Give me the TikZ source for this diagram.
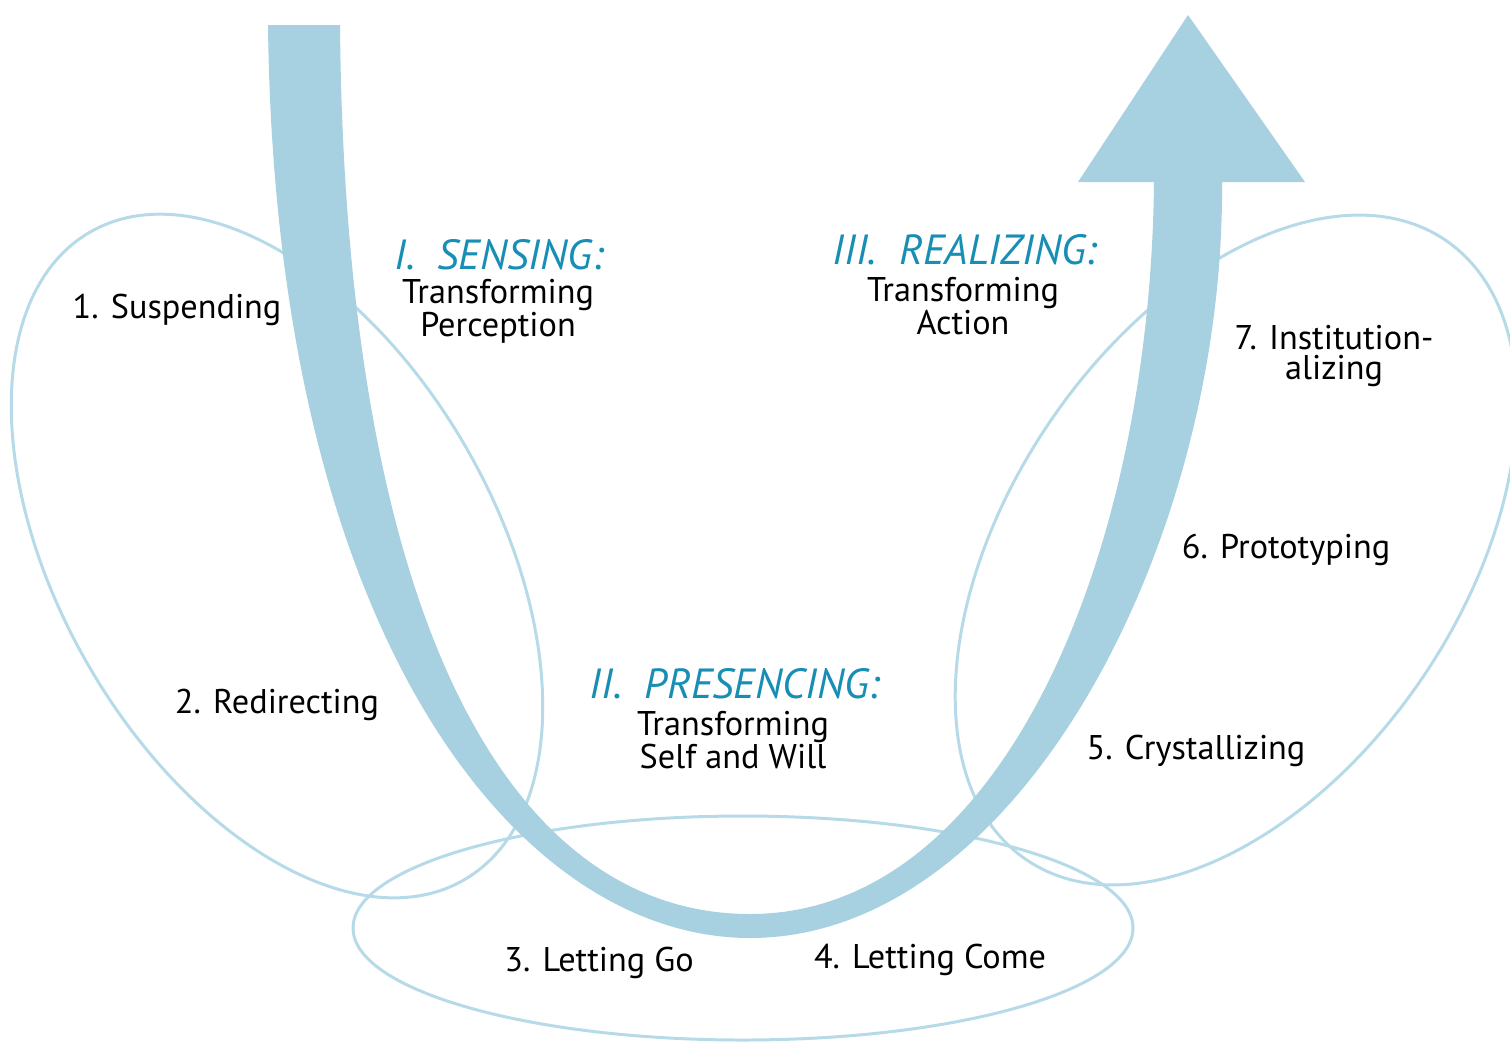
\documentclass[tikz,border=0pt]{standalone}
\usepackage{fontspec}
\setmainfont{PT Sans}
\definecolor{pfeilblau}{RGB}{167,209,225}
\definecolor{ringblau}{RGB}{182,218,231}
\definecolor{titelblau}{RGB}{24,142,180}
\begin{document}
\begin{tikzpicture}[x=0.02cm, y=-0.02cm,
	ring/.style={draw=ringblau, line width=1.7pt},
	schritt/.style={font=\fontsize{19.5}{17.6}\selectfont, align=center, inner sep=0pt},
	phase/.style={font=\fontsize{24}{24}\selectfont\itshape, text=titelblau, inner sep=0pt},
	unter/.style={font=\fontsize{19.5}{17.6}\selectfont, align=center, inner sep=0pt}]
\useasboundingbox (0,0) rectangle (1510,1042);

% Ellipsen zeichnen
\draw[ring, rotate around={-60:(277,556)}] (277,556) ellipse [x radius=374, y radius=218];
\draw[ring, rotate around={56:(1236,550)}] (1236,550) ellipse [x radius=374, y radius=226];
\draw[ring] (743,928) ellipse [x radius=390, y radius=112];

% U-Pfeil zeichnen: aussen, Spitze, innen
\fill[pfeilblau] (268,25) .. controls (275,640) and (520,938) .. (750,938)
	.. controls (1020,938) and (1225,540) .. (1222,182)
	-- (1305,182) -- (1188,15) -- (1078,182) -- (1154,182)
	.. controls (1150,560) and (1000,914) .. (750,914)
	.. controls (510,914) and (345,620) .. (340,25) -- cycle;

% Phasen beschriften
\node[phase] (sensing) at (499,255) {I.\ \ SENSING:};
\node[unter] (sensingtext) at (498,311) {Transforming\\Perception};
\node[phase] (presencing) at (735,684) {II.\ \ PRESENCING:};
\node[unter] (presencingtext) at (733,740) {Transforming\\Self and Will};
\node[phase] (realizing) at (965,250) {III.\ \ REALIZING:};
\node[unter] (realizingtext) at (963,306) {Transforming\\Action};

% Schritte beschriften
\node[schritt] (suspending) at (177,310) {1. Suspending};
\node[schritt] (redirecting) at (277,705) {2. Redirecting};
\node[schritt] (lettinggo) at (599,963) {3. Letting Go};
\node[schritt] (lettingcome) at (930,960) {4. Letting Come};
\node[schritt] (crystallizing) at (1196,751) {5. Crystallizing};
\node[schritt] (prototyping) at (1286,550) {6. Prototyping};
\node[schritt] (institution) at (1334,356) {7. Institution-\\alizing};
\end{tikzpicture}
\end{document}
